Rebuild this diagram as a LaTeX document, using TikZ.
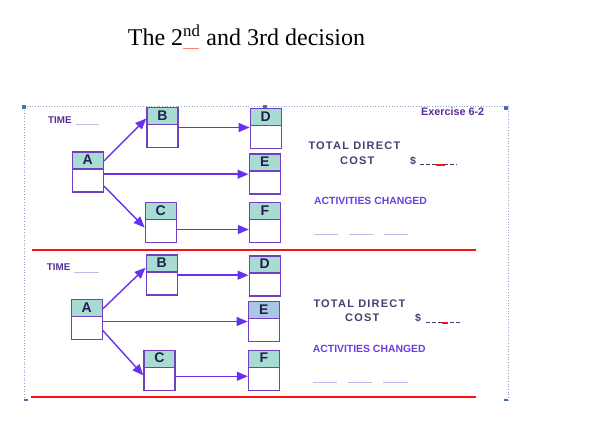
\documentclass[tikz,border=0pt]{standalone}
\usepackage{fontspec}
\setmainfont{Liberation Serif}
\setsansfont{Liberation Sans}
\usetikzlibrary{arrows.meta,decorations.pathmorphing}
\definecolor{boxline}{HTML}{7040C0}
\definecolor{hdrA}{HTML}{A8DCD2}
\definecolor{hdrE}{HTML}{A9C6E2}
\definecolor{arrowcol}{HTML}{6A30F0}
\definecolor{lettercol}{HTML}{202050}
\definecolor{timecol}{HTML}{5A2D9A}
\definecolor{costcol}{HTML}{4A3C70}
\definecolor{actcol}{HTML}{6A40E0}
\definecolor{redline}{HTML}{FF1010}
\definecolor{blankcol}{HTML}{C8B8EA}
\definecolor{framecol}{HTML}{8CA0C4}
\definecolor{handlecol}{HTML}{4E6EA8}
\tikzset{
  actbox/.style={draw=boxline, line width=1.4pt, minimum width=31pt, minimum height=40pt, inner sep=0pt,
    path picture={\fill[#1] (path picture bounding box.north west) rectangle ([yshift=-17pt]path picture bounding box.north east);
      \draw[boxline, line width=1.4pt] ([yshift=-17pt]path picture bounding box.north west) -- ([yshift=-17pt]path picture bounding box.north east);}},
  actbox/.default=hdrA,
  letter/.style={font=\sffamily\bfseries\fontsize{14}{16}\selectfont, text=lettercol, inner sep=0pt},
  conn/.style={draw=arrowcol, line width=1.4pt, -{Triangle[length=11pt,width=9pt]}},
  timetxt/.style={font=\sffamily\bfseries\fontsize{9.8}{11}\selectfont, text=timecol, inner sep=0pt, anchor=base west},
  costtxt/.style={font=\sffamily\bfseries\fontsize{11}{13}\selectfont\addfontfeature{LetterSpace=11}, text=costcol, inner sep=0pt, anchor=base west},
  dollar/.style={font=\sffamily\bfseries\fontsize{10.5}{12}\selectfont, text=costcol, inner sep=0pt, anchor=base west},
  acttxt/.style={font=\sffamily\bfseries\fontsize{10.4}{12}\selectfont, text=actcol, inner sep=0pt, anchor=base west},
  blank/.style={draw=blankcol, line width=1pt},
  redbar/.style={draw=redline, line width=2.2pt},
  frame/.style={draw=framecol, line width=0.7pt, dotted},
  handle/.style={fill=handlecol, minimum size=4pt, inner sep=0pt},
  reddash/.style={draw=redline, line width=2pt},
}
\begin{document}
\begin{tikzpicture}[x=1pt,y=-1pt]
\useasboundingbox (0,0) rectangle (589,430);
\fill[white] (0,0) rectangle (589,430);

% title
\node[font=\fontsize{24}{28}\selectfont, anchor=base, inner sep=0pt] (title) at (246.5,45.7) {The 2\textsuperscript{nd} and 3rd decision};
\draw[redline!70, line width=0.4pt, decorate, decoration={snake, amplitude=0.4pt, segment length=1.5pt}] (183,48.5) -- (199,48.5);

% selection frame
\draw[frame] (24,400) -- (24,106) -- (508,106) -- (508,400);
\node[handle] (h1) at (24,107) {};
\node[handle] (h2) at (506,108) {};
\node[handle] (h3) at (265,107) {};
\node[handle, minimum height=2pt] (h4) at (26,400) {};
\node[handle, minimum height=2pt] (h5) at (506,400) {};

% ---------------- upper panel ----------------
\node[timetxt] (time1) at (48,123.7) {TIME};
\draw[blank] (76,124.3) -- (99,124.3);
\node[font=\sffamily\bfseries\fontsize{10.8}{12}\selectfont, text=timecol, inner sep=0pt, anchor=base west] (ex) at (421,115.7) {Exercise 6-2};

\node[actbox] (A1) at (87.8,172) {};
\node[actbox] (B1) at (162.5,127.5) {};
\node[actbox] (D1) at (265.8,128.8) {};
\node[actbox] (E1) at (264.7,174.2) {};
\node[actbox] (C1) at (160.8,222.5) {};
\node[actbox] (F1) at (265,222.5) {};
\foreach \n/\t in {A1/A,B1/B,C1/C,D1/D,E1/E,F1/F}
  \node[letter] (\n l) at ([yshift=-8.5pt]\n.north) {\t};

\draw[conn] ([yshift=11pt]A1.east) -- ([yshift=9pt]B1.west);
\draw[conn] (A1.east |- E1.west) -- (E1.west);
\draw[conn] ([yshift=-14pt]A1.east) -- ([yshift=-5pt]C1.west);
\draw[conn] (B1.east) -- (B1.east -| D1.west);
\draw[conn] ([yshift=-7pt]C1.east) -- ([yshift=-7pt]C1.east -| F1.west);

\node[costtxt] (tdc1) at (308.3,150) {TOTAL DIRECT};
\node[costtxt] (cost1) at (340,164.3) {COST};
\node[dollar] (dol1) at (410,164.3) {\$};
\draw[costcol, line width=1pt, dash pattern=on 4pt off 2pt] (420,165) -- (457.3,165);
\draw[reddash] (436,165) -- (445,165);
\node[acttxt] (act1) at (314,204.3) {ACTIVITIES CHANGED};
\draw[blank] (314,234.3) -- (338,234.3);
\draw[blank] (349,234.3) -- (373,234.3);
\draw[blank] (384,234.3) -- (408,234.3);

\draw[redbar] (32,250) -- (476,250);

% ---------------- lower panel ----------------
\node[timetxt] (time2) at (46.7,270.7) {TIME};
\draw[blank] (74,272.3) -- (98.7,272.3);

\node[actbox] (A2) at (86.8,319.7) {};
\node[actbox] (B2) at (161.7,275.2) {};
\node[actbox] (D2) at (264.7,276.2) {};
\node[actbox=hdrE] (E2) at (263.8,321.5) {};
\node[actbox] (C2) at (159.5,370.3) {};
\node[actbox] (F2) at (264,370.3) {};
\foreach \n/\t in {A2/A,B2/B,C2/C,D2/D,E2/E,F2/F}
  \node[letter] (\n l) at ([yshift=-8.5pt]\n.north) {\t};

\draw[conn] ([yshift=11pt]A2.east) -- ([yshift=7.5pt]B2.west);
\draw[conn] (A2.east |- E2.west) -- (E2.west);
\draw[conn] ([yshift=-11pt]A2.east) -- ([yshift=-5pt]C2.west);
\draw[conn] (B2.east) -- (B2.east -| D2.west);
\draw[conn] ([yshift=-6pt]C2.east) -- ([yshift=-6pt]C2.east -| F2.west);

\node[costtxt] (tdc2) at (313.3,307.3) {TOTAL DIRECT};
\node[costtxt] (cost2) at (345,321.7) {COST};
\node[dollar] (dol2) at (415,321.7) {\$};
\draw[costcol, line width=1pt, dash pattern=on 4pt off 2pt] (425.7,323) -- (461.7,323);
\draw[reddash] (441.7,323) -- (448.3,323);
\node[acttxt] (act2) at (312.7,352.3) {ACTIVITIES CHANGED};
\draw[blank] (312.7,382.3) -- (336.7,382.3);
\draw[blank] (348,382.3) -- (372.3,382.3);
\draw[blank] (383.3,382.3) -- (407.7,382.3);

\draw[redbar] (31,397.3) -- (476,397.3);
\end{tikzpicture}
\end{document}
